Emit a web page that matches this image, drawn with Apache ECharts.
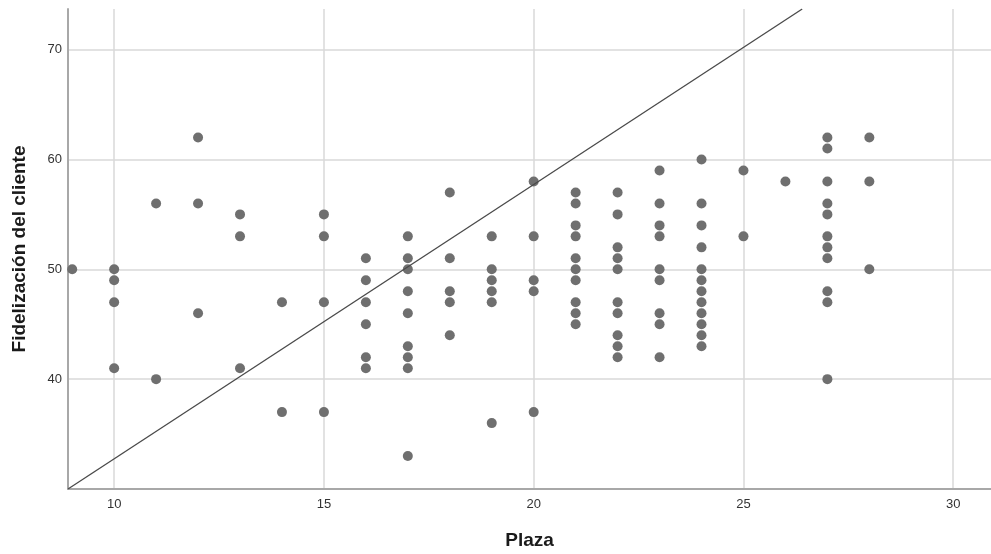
<!DOCTYPE html>
<html>
<head>
<meta charset="utf-8">
<script src="https://cdn.jsdelivr.net/npm/echarts@6/dist/echarts.min.js"></script>
<style>html,body{margin:0;padding:0;background:#fff;}#c{width:991px;height:554px;}</style>
</head>
<body>
<div id="c"></div>
<script>
// Plaza (x) and Fidelización del cliente (y), one entry per point
const plaza = [
  9,
  10,10,10,10,
  11,11,
  12,12,12,
  13,13,13,
  14,14,
  15,15,15,15,
  16,16,16,16,16,16,
  17,17,17,17,17,17,17,17,17,
  18,18,18,18,18,
  19,19,19,19,19,19,
  20,20,20,20,20,
  21,21,21,21,21,21,21,21,21,21,
  22,22,22,22,22,22,22,22,22,22,
  23,23,23,23,23,23,23,23,23,
  24,24,24,24,24,24,24,24,24,24,24,24,
  25,25,
  26,
  27,27,27,27,27,27,27,27,27,27,27,
  28,28,28
];
const fidelizacion = [
  50,
  50,49,47,41,
  56,40,
  62,56,46,
  55,53,41,
  47,37,
  55,53,47,37,
  51,49,47,45,42,41,
  53,51,50,48,46,43,42,41,33,
  57,51,48,47,44,
  53,50,49,48,47,36,
  58,53,49,48,37,
  57,56,54,53,51,50,49,47,46,45,
  57,55,52,51,50,47,46,44,43,42,
  59,56,54,53,50,49,46,45,42,
  60,56,54,52,50,49,48,47,46,45,44,43,
  59,53,
  58,
  62,61,58,56,55,53,52,51,48,47,40,
  62,58,50
];
// Reference line endpoints
const lineX = [8.9, 26.4];
const lineY = [30, 73.7];

const points = plaza.map((x, i) => [x, fidelizacion[i]]);
const linePts = lineX.map((x, i) => [x, lineY[i]]);

const chart = echarts.init(document.getElementById('c'), null, {renderer: 'canvas'});
const font = 'Liberation Sans, Arial, sans-serif';
chart.setOption({
  animation: false,
  grid: {left: 68, right: 0, top: 9, bottom: 65, containLabel: false, outerBoundsMode: 'none'},
  xAxis: {
    type: 'value', min: 8.9, max: 30.9, splitNumber: 4,
    name: 'Plaza', nameLocation: 'middle', nameGap: 42,
    nameTextStyle: {fontFamily: font, fontSize: 19, fontWeight: 'bold', color: '#1a1a1a'},
    axisLine: {show: true, onZero: false, lineStyle: {color: '#a8a8a8', width: 2}},
    axisTick: {show: false},
    axisLabel: {fontFamily: font, fontSize: 13, color: '#333', margin: 9, showMinLabel: false, showMaxLabel: false},
    splitLine: {show: true, showMinLine: false, showMaxLine: false, lineStyle: {color: '#d9d9d9', width: 1.5}}
  },
  yAxis: {
    type: 'value', min: 30, max: 73.7, interval: 10,
    name: 'Fidelización del cliente', nameLocation: 'middle', nameGap: 39, nameRotate: 90,
    nameTextStyle: {fontFamily: font, fontSize: 19, fontWeight: 'bold', color: '#1a1a1a'},
    axisLine: {show: true, onZero: false, lineStyle: {color: '#a8a8a8', width: 2}},
    axisTick: {show: false},
    axisLabel: {fontFamily: font, fontSize: 13, color: '#333', margin: 6, showMinLabel: false, showMaxLabel: false},
    splitLine: {show: true, showMinLine: false, showMaxLine: false, lineStyle: {color: '#d9d9d9', width: 1.5}}
  },
  series: [
    {
      type: 'scatter', data: points, symbolSize: 10,
      itemStyle: {color: '#6f6f6f', opacity: 1}
    },
    {
      type: 'line', data: linePts, symbol: 'none', clip: true,
      lineStyle: {color: '#4a4a4a', width: 1.3}
    }
  ]
});
</script>
</body>
</html>
